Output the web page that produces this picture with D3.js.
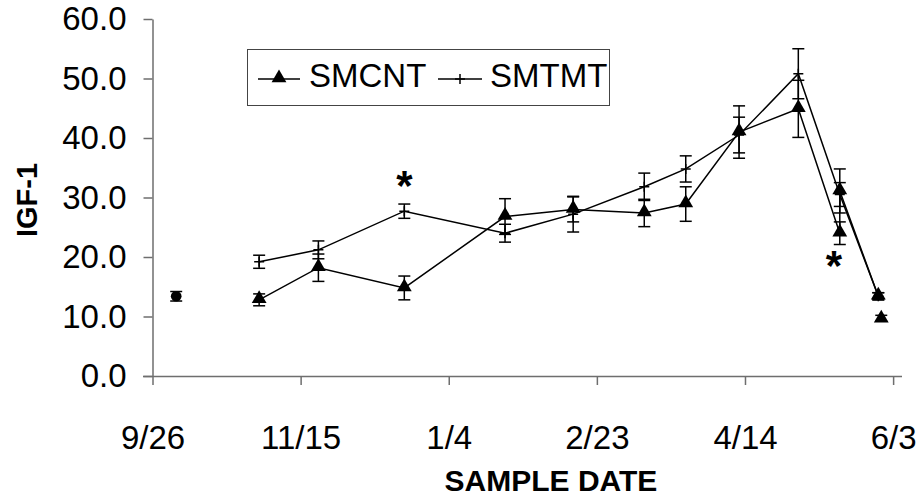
<!DOCTYPE html>
<html>
<head>
<meta charset="utf-8">
<script src="https://cdn.jsdelivr.net/npm/d3@7"></script>
<style>
  body { margin: 0; background: #fff; }
  text { font-family: "Liberation Sans", Arial, sans-serif; }
</style>
</head>
<body>
<div id="vis-holder"></div>
<script>
// values
const smcntDates = ["2002-11-01", "2002-11-21", "2002-12-20", "2003-01-23", "2003-02-15", "2003-03-11",
    "2003-03-25", "2003-04-12", "2003-05-02", "2003-05-16", "2003-05-16", "2003-05-29"];
const smcnt = [12.8, 18.2, 14.8, 26.8, 28.0, 27.4, 28.9, 41.0, 44.9, 24.0, 31.1, 13.4];
const smcntErr = [1.0, 2.3, 2.0, 3.0, 2.1, 2.3, 2.9, 4.4, 4.8, 1.9, 3.7, 0.6];

const smtmtDates = ["2002-11-01", "2002-11-21", "2002-12-20", "2003-01-23", "2003-02-15", "2003-03-11",
    "2003-03-25", "2003-04-12", "2003-05-02", "2003-05-16", "2003-05-29"];
const smtmt = [19.2, 21.2, 27.7, 24.0, 27.2, 31.8, 34.8, 40.5, 50.8, 30.5, 13.4];
const smtmtErr = [1.1, 1.5, 1.2, 1.5, 3.0, 2.3, 2.2, 3.0, 4.2, 2.0, 0.6];

// lone points without a line
const extraDates = ["2002-10-04", "2003-05-30"];
const extraVals = [13.4, 9.7];
const extraErr = [0.8, 0.5];
const extraShape = ["circle", "triangle"];

// significance marks
const starDates = ["2002-12-20", "2003-05-14"];
const starVals = [33.2, 19.8];

const xTicks = ["2002-09-26", "2002-11-15", "2003-01-04", "2003-02-23", "2003-04-14", "2003-06-03"];
const yTicks = [0, 10, 20, 30, 40, 50, 60];

const width = 919, height = 499;
const parse = d3.timeParse("%Y-%m-%d");

const svg = d3.select("#vis-holder")
    .append("svg")
    .attr("width", width)
    .attr("height", height);

const x = d3.scaleTime()
    .domain([parse("2002-09-26"), parse("2003-06-06")])
    .range([152.5, 902]);
const y = d3.scaleLinear()
    .domain([0, 60])
    .range([376, 19]);

const axisColor = "#6e6e6e";

// x axis
const gx = svg.append("g")
    .attr("transform", "translate(0," + y(0) + ")")
    .call(d3.axisBottom(x)
        .tickValues(xTicks.map(parse))
        .tickFormat(d3.timeFormat("%-m/%-d"))
        .tickSizeInner(9)
        .tickSizeOuter(0)
        .tickPadding(41));
gx.select(".domain").attr("d", "M143,0.5H902").attr("stroke", axisColor).attr("stroke-width", 1.5);
gx.selectAll(".tick line").attr("stroke", axisColor).attr("stroke-width", 1.5);
gx.selectAll(".tick text").attr("fill", "#000").style("font-size", "33px");

// y axis
const gy = svg.append("g")
    .attr("transform", "translate(" + x(parse("2002-09-26")) + ",0)")
    .call(d3.axisLeft(y)
        .tickValues(yTicks)
        .tickFormat(d3.format(".1f"))
        .tickSizeInner(9)
        .tickSizeOuter(0)
        .tickPadding(17));
gy.select(".domain").attr("stroke", axisColor).attr("stroke-width", 1.5);
gy.selectAll(".tick line").attr("stroke", axisColor).attr("stroke-width", 1.5);
gy.selectAll(".tick text").attr("fill", "#000").style("font-size", "33px");

// axis titles
svg.append("text")
    .attr("x", 551).attr("y", 491)
    .attr("text-anchor", "middle")
    .style("font-size", "30px").style("font-weight", "bold")
    .text("SAMPLE DATE");
svg.append("text")
    .attr("transform", "translate(37,200) rotate(-90)")
    .attr("text-anchor", "middle")
    .style("font-size", "29px").style("font-weight", "bold")
    .text("IGF-1");

const tri = d3.symbol().type(d3.symbolTriangle).size(95);
const capW = 6;

function drawErr(g, pts) {
    const e = g.append("g").attr("stroke", "#000").attr("stroke-width", 1.5);
    pts.forEach(p => {
        const cx = x(p.date), lo = y(p.v - p.e), hi = y(p.v + p.e);
        e.append("line").attr("x1", cx).attr("x2", cx).attr("y1", lo).attr("y2", hi);
        e.append("line").attr("x1", cx - capW).attr("x2", cx + capW).attr("y1", lo).attr("y2", lo);
        e.append("line").attr("x1", cx - capW).attr("x2", cx + capW).attr("y1", hi).attr("y2", hi);
    });
}

const line = d3.line().x(d => x(d.date)).y(d => y(d.v));

const cnt = smcntDates.map((d, i) => ({date: parse(d), v: smcnt[i], e: smcntErr[i]}));
const tmt = smtmtDates.map((d, i) => ({date: parse(d), v: smtmt[i], e: smtmtErr[i]}));
const ext = extraDates.map((d, i) => ({date: parse(d), v: extraVals[i], e: extraErr[i], s: extraShape[i]}));

const plot = svg.append("g");

// SMTMT
drawErr(plot, tmt);
plot.append("path").datum(tmt)
    .attr("d", line).attr("fill", "none").attr("stroke", "#000").attr("stroke-width", 1.5);
plot.selectAll(".plus").data(tmt).enter().append("path")
    .attr("class", "plus")
    .attr("d", d => "M" + (x(d.date) - 5) + "," + y(d.v) + "h10M" + x(d.date) + "," + (y(d.v) - 5) + "v10")
    .attr("stroke", "#000").attr("stroke-width", 1.5);

// SMCNT
drawErr(plot, cnt);
plot.append("path").datum(cnt)
    .attr("d", line).attr("fill", "none").attr("stroke", "#000").attr("stroke-width", 1.5);
plot.selectAll(".tri").data(cnt).enter().append("path")
    .attr("class", "tri")
    .attr("d", tri)
    .attr("transform", d => "translate(" + x(d.date) + "," + (y(d.v) - 1) + ")")
    .attr("fill", "#000");

// lone points
drawErr(plot, ext);
plot.selectAll(".ext").data(ext).enter().append("path")
    .attr("class", "ext")
    .attr("d", d => d.s === "circle" ? d3.symbol().type(d3.symbolCircle).size(90)() : tri())
    .attr("transform", d => "translate(" + x(d.date) + "," + y(d.v) + ")")
    .attr("fill", "#000");

// asterisks
plot.selectAll(".star").data(starDates).enter().append("text")
    .attr("class", "star")
    .attr("x", d => x(parse(d)))
    .attr("y", (d, i) => y(starVals[i]) + 22)
    .attr("text-anchor", "middle")
    .style("font-size", "42px").style("font-weight", "bold")
    .text("*");

// legend
const leg = svg.append("g");
leg.append("rect")
    .attr("x", 247.5).attr("y", 49.5).attr("width", 362).attr("height", 56)
    .attr("fill", "#fff").attr("stroke", "#444").attr("stroke-width", 1);
const legY = 79;
leg.append("line").attr("x1", 258).attr("x2", 300).attr("y1", legY).attr("y2", legY)
    .attr("stroke", "#000").attr("stroke-width", 1.5);
leg.append("path").attr("d", tri).attr("transform", "translate(279," + (legY - 1) + ")");
leg.append("text").attr("x", 309).attr("y", legY + 8).style("font-size", "33px").text("SMCNT");
leg.append("line").attr("x1", 438).attr("x2", 482).attr("y1", legY).attr("y2", legY)
    .attr("stroke", "#000").attr("stroke-width", 1.5);
leg.append("path").attr("d", "M455," + legY + "h10M460," + (legY - 5) + "v10")
    .attr("stroke", "#000").attr("stroke-width", 1.5);
leg.append("text").attr("x", 490).attr("y", legY + 8).style("font-size", "33px").text("SMTMT");
</script>
</body>
</html>
